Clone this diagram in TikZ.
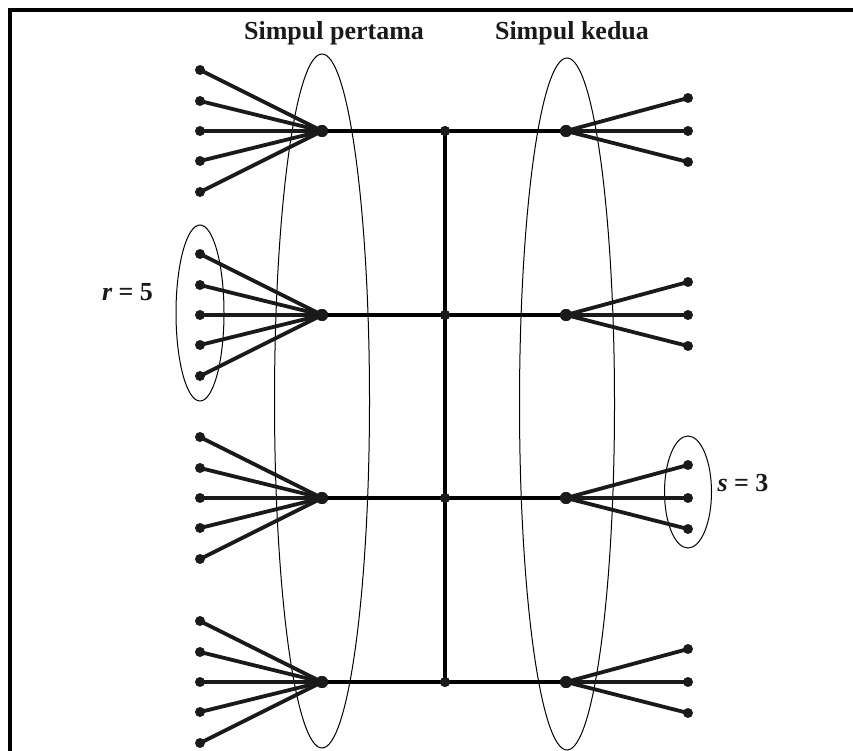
\documentclass[tikz,border=0pt]{standalone}
\usepackage{fontspec}
\setmainfont{Liberation Serif}
\usetikzlibrary{shapes.geometric}
\definecolor{ink}{HTML}{1A1A1A}
\tikzset{
  leaf/.style={circle,fill=ink,inner sep=0pt,minimum size=10pt},
  hubdot/.style={circle,fill=ink,inner sep=0pt,minimum size=12pt},
  spoke/.style={draw=ink,line width=3.8pt},
  bar/.style={draw=black,line width=3.6pt},
  ring/.style={ellipse,draw=black,line width=1pt,inner sep=0pt},
  lab/.style={text=ink,font=\fontsize{26}{30}\selectfont\bfseries,anchor=base,inner sep=0pt},
  frame/.style={draw=black,line width=3.2pt}
}
\begin{document}
\begin{tikzpicture}[x=1pt,y=-1pt]
\useasboundingbox (0,0) rectangle (853,751);
\fill[white] (0,0) rectangle (853,751);
% frame
\coordinate (fa) at (10,751);
\coordinate (fb) at (10,10);
\coordinate (fc) at (853,10);
\draw[frame] (fa) -- (fb) -- (fc);
% big ellipses
\node[ring,minimum width=95pt,minimum height=694pt] (E1) at (322,401) {};
\node[ring,minimum width=95pt,minimum height=692pt] (E2) at (567,404) {};
% small ellipses
\node[ring,minimum width=48pt,minimum height=176pt] (Er) at (200,313) {};
\node[ring,minimum width=47pt,minimum height=112pt] (Es) at (688,492) {};
% layers
\foreach \i/\y in {1/131,2/315,3/498,4/682}{
  \node[hubdot] (L\i) at (322,\y) {};
  \node[hubdot,minimum size=10pt] (C\i) at (445,\y) {};
  \node[hubdot] (R\i) at (566,\y) {};
  \foreach \j/\d in {1/-61,2/-30,3/0,4/30,5/61}{
    \node[leaf] (l\i\j) at (200,\y+\d) {};
    \draw[spoke] (L\i.center) -- (l\i\j.center);
  }
  \foreach \j/\d in {1/-33,2/0,3/31}{
    \node[leaf] (r\i\j) at (688,\y+\d) {};
    \draw[spoke] (R\i.center) -- (r\i\j.center);
  }
  \draw[bar] (L\i.center) -- (C\i.center) -- (R\i.center);
}
\draw[bar] (C1.center) -- (C4.center);
% redraw dots on top
\foreach \i/\y in {1/131,2/315,3/498,4/682}{
  \node[hubdot] at (L\i) {};
  \node[hubdot,minimum size=10pt] at (C\i) {};
  \node[hubdot] at (R\i) {};
}
% labels
\node[lab] (t1) at (334,40) {Simpul pertama};
\node[lab] (t2) at (572,40) {Simpul kedua};
\node[lab] (tr) at (127.5,300) {{\itshape r} = 5};
\node[lab] (ts) at (743,491) {{\itshape s} = 3};
\end{tikzpicture}
\end{document}
